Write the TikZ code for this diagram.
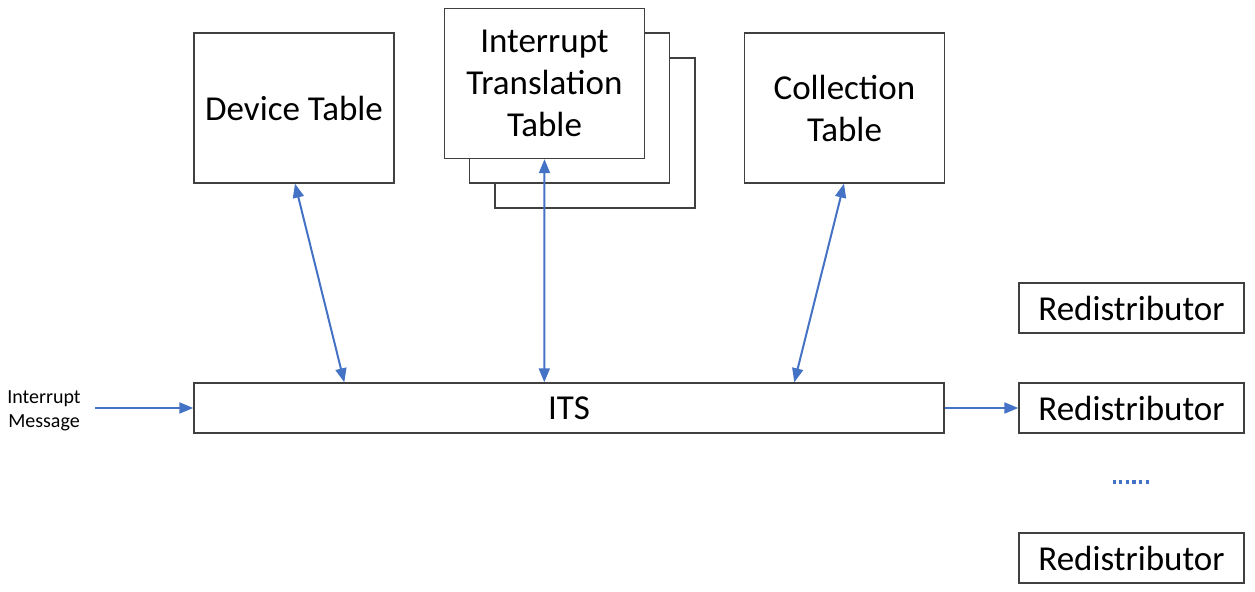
\documentclass[tikz,border=0pt]{standalone}
\usepackage{fontspec}
\setmainfont{Carlito}
\usetikzlibrary{arrows.meta,calc}
\definecolor{arrblue}{HTML}{4472C4}
\definecolor{boxgray}{HTML}{404040}
\tikzset{
  box/.style={draw=boxgray, line width=0.7pt, fill=white, inner sep=0pt, align=center,
    font=\fontsize{17.5}{21}\selectfont},
  conn/.style={draw=arrblue, line width=1pt, {Triangle[width=5.5pt,length=7pt]}-{Triangle[width=5.5pt,length=7pt]}},
  oneway/.style={draw=arrblue, line width=1pt, -{Triangle[width=5.5pt,length=7pt]}},
}
\begin{document}
\begin{tikzpicture}[x=0.5pt,y=-0.5pt]
\useasboundingbox (0,0) rectangle (1255,592);
% Device Table
\node[box, minimum width=100pt, minimum height=75pt] (dev) at (294,108) {Device Table};
% ITT stack
\node[box, minimum width=100pt, minimum height=75pt] (itt3) at (595,133) {};
\node[box, minimum width=100pt, minimum height=75pt] (itt2) at (569.5,108) {};
\node[box, minimum width=100pt, minimum height=75pt] (itt) at (544.5,83.5) {Interrupt\\Translation\\Table};
% Collection Table
\node[box, minimum width=100pt, minimum height=75pt] (col) at (844.5,108) {Collection\\Table};
% ITS
\node[box, minimum width=375pt, minimum height=25pt] (its) at (569,408) {ITS};
% Redistributors
\node[box, minimum width=112.5pt, minimum height=25pt] (r1) at (1131.5,308) {Redistributor};
\node[box, minimum width=112.5pt, minimum height=25pt] (r2) at (1131.5,408) {Redistributor};
\node[box, minimum width=112.5pt, minimum height=25pt] (r3) at (1131.5,558) {Redistributor};
% input text
\node[align=center, inner sep=0pt, font=\fontsize{10}{12}\selectfont] (msg) at (44,411) {Interrupt\\Message};
\coordinate (in) at (95,408);
% dots
\node[inner sep=0pt] (dots) at (1131.5,482) {};
\draw[arrblue, line width=1.6pt, dash pattern=on 1.6pt off 1.7pt] ($(dots)+(-19,0)$) -- ($(dots)+(20,0)$);
% connectors
\coordinate (a1) at ($(its.north west)+(151,0)$);
\coordinate (a2) at ($(its.north west)+(351,0)$);
\coordinate (a3) at ($(its.north west)+(601,0)$);
\draw[conn] ($(dev.south)+(1,0)$) -- (a1);
\draw[conn] (itt.south) -- (a2);
\draw[conn] ($(col.south)+(-0.5,0)$) -- (a3);
\draw[oneway] (in) -- (its.west);
\draw[oneway] (its.east) -- (r2.west);
\end{tikzpicture}
\end{document}
